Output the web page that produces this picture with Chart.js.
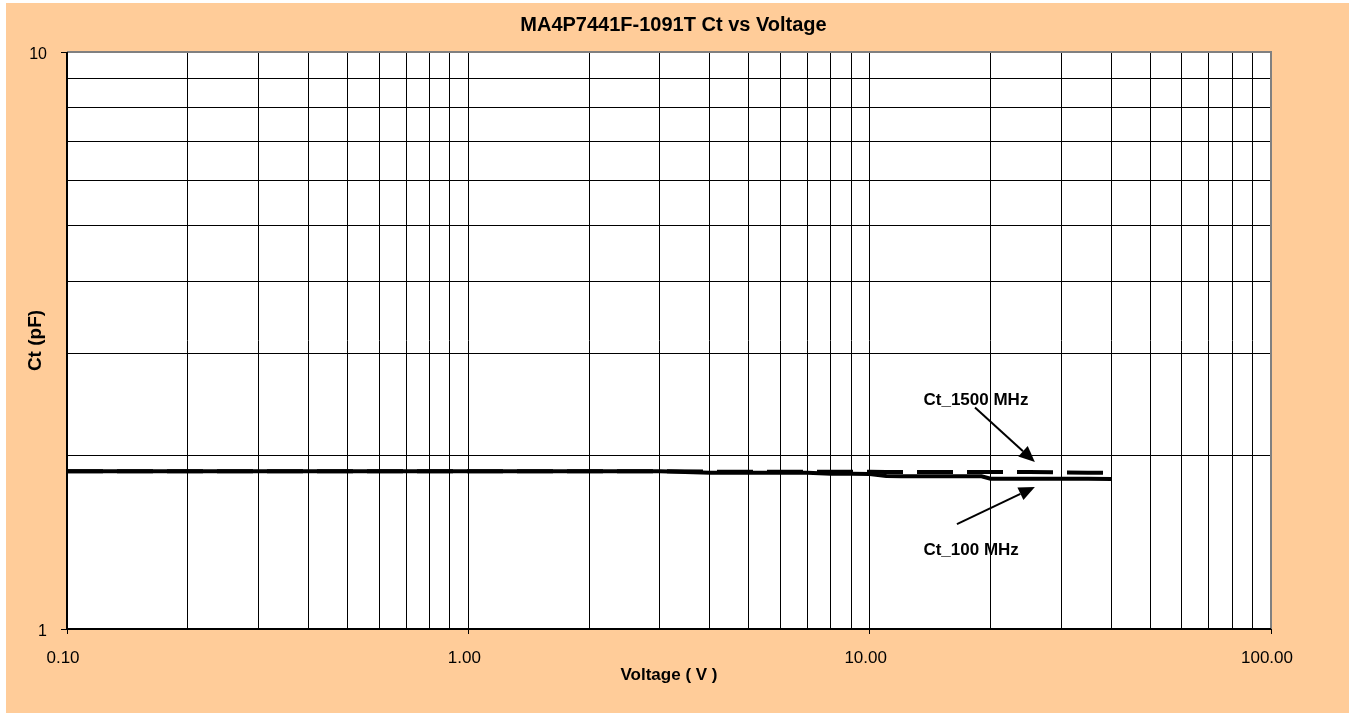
<!DOCTYPE html>
<html>
<head>
<meta charset="utf-8">
<script src="https://cdn.jsdelivr.net/npm/chart.js@4/dist/chart.umd.min.js"></script>
<style>
  html, body { margin: 0; padding: 0; background: #ffffff; width: 1349px; height: 713px; overflow: hidden; }
  #wrap { position: absolute; left: 6px; top: 3px; width: 1343px; height: 710px; }
</style>
</head>
<body>
<div id="wrap"><canvas id="c"></canvas></div>
<script>
// ---- data ----
const voltages = [0.1, 0.2, 0.3, 0.5, 1, 2, 3, 4, 5, 6, 7, 8, 9, 10, 11, 12, 15, 19, 20, 25, 30, 35, 40];
const ct100MHz = [1.876, 1.876, 1.876, 1.876, 1.876, 1.876, 1.876, 1.866, 1.866, 1.866, 1.865, 1.858, 1.858, 1.857, 1.841, 1.840, 1.840, 1.839, 1.822, 1.821, 1.821, 1.821, 1.820];
const ct1500MHz = [1.877, 1.877, 1.877, 1.877, 1.877, 1.877, 1.877, 1.874, 1.873, 1.873, 1.873, 1.873, 1.873, 1.873, 1.872, 1.872, 1.872, 1.872, 1.872, 1.871, 1.868, 1.866, 1.864];
const xTickValues = [0.1,0.2,0.3,0.4,0.5,0.6,0.7,0.8,0.9,1,2,3,4,5,6,7,8,9,10,20,30,40,50,60,70,80,90,100];
const xTickLabels = ['0.10','','','','','','','','','1.00','','','','','','','','','10.00','','','','','','','','','100.00'];
const yTickValues = [1,2,3,4,5,6,7,8,9,10];
const yTickLabels = ['1','','','','','','','','','10'];
const chartTitle = 'MA4P7441F-1091T Ct vs Voltage';
const xTitle = 'Voltage ( V )';
const yTitle = 'Ct (pF)';
const seriesNames = ['Ct_100 MHz', 'Ct_1500 MHz'];
// annotation anchors in data units: label position, arrow tail, arrow tip
const note1500 = { text: 'Ct_1500 MHz', label: [18.4, 2.49], tail: [18.3, 2.42], tip: [25.8, 1.947] };
const note100  = { text: 'Ct_100 MHz',  label: [17.9, 1.37], tail: [16.5, 1.52], tip: [25.8, 1.763] };

const PEACH = '#FFCC99';
const FONT = '"Liberation Sans", Arial, sans-serif';

const bgPlugin = {
  id: 'bg',
  beforeDraw(chart) {
    const {ctx, chartArea: a} = chart;
    ctx.save();
    ctx.fillStyle = PEACH;
    ctx.fillRect(0, 0, chart.width, chart.height);
    ctx.fillStyle = '#ffffff';
    ctx.fillRect(a.left, a.top, a.right - a.left, a.bottom - a.top);
    ctx.restore();
  },
  afterDraw(chart) {
    const {ctx, chartArea: a} = chart;
    ctx.save();
    ctx.strokeStyle = '#808080';
    ctx.lineWidth = 2;
    ctx.beginPath();
    ctx.moveTo(a.left, a.top); ctx.lineTo(a.right, a.top); ctx.lineTo(a.right, a.bottom);
    ctx.stroke();
    ctx.strokeStyle = '#000';
    ctx.beginPath();
    ctx.moveTo(a.left, a.top); ctx.lineTo(a.left, a.bottom); ctx.lineTo(a.right, a.bottom);
    ctx.stroke();
    // chart title, centred on the whole chart
    ctx.fillStyle = '#000';
    ctx.font = 'bold 20px ' + FONT;
    ctx.textAlign = 'center'; ctx.textBaseline = 'middle';
    ctx.fillText(chartTitle, chart.width / 2 - 4, 22);
    ctx.restore();
  }
};

function drawArrow(ctx, x1, y1, x2, y2) {
  const ang = Math.atan2(y2 - y1, x2 - x1);
  const hl = 16, hw = 7;
  const bx = x2 - hl * Math.cos(ang), by = y2 - hl * Math.sin(ang);
  ctx.beginPath();
  ctx.moveTo(x1, y1); ctx.lineTo(bx, by);
  ctx.stroke();
  ctx.beginPath();
  ctx.moveTo(x2, y2);
  ctx.lineTo(bx + hw * Math.sin(ang), by - hw * Math.cos(ang));
  ctx.lineTo(bx - hw * Math.sin(ang), by + hw * Math.cos(ang));
  ctx.closePath();
  ctx.fill();
}

const notePlugin = {
  id: 'notes',
  afterDatasetsDraw(chart) {
    const {ctx, scales: {x, y}} = chart;
    ctx.save();
    ctx.strokeStyle = '#000'; ctx.fillStyle = '#000'; ctx.lineWidth = 2;
    ctx.font = 'bold 17px ' + FONT;
    ctx.textAlign = 'center'; ctx.textBaseline = 'middle';
    [note1500, note100].forEach(n => {
      ctx.fillText(n.text, x.getPixelForValue(n.label[0]), y.getPixelForValue(n.label[1]));
      drawArrow(ctx, x.getPixelForValue(n.tail[0]), y.getPixelForValue(n.tail[1]),
                     x.getPixelForValue(n.tip[0]), y.getPixelForValue(n.tip[1]));
    });
    ctx.restore();
  }
};

new Chart(document.getElementById('c'), {
  type: 'line',
  data: {
    datasets: [
      {
        label: seriesNames[0],
        data: voltages.map((v, i) => ({x: v, y: ct100MHz[i]})),
        borderColor: '#000', borderWidth: 4, pointRadius: 0, tension: 0, fill: false
      },
      {
        label: seriesNames[1],
        data: voltages.map((v, i) => ({x: v, y: ct1500MHz[i]})),
        borderColor: '#000', borderWidth: 4, borderDash: [36, 14], pointRadius: 0, tension: 0, fill: false
      }
    ]
  },
  options: {
    responsive: true,
    maintainAspectRatio: false,
    animation: false,
    layout: { padding: { top: 49, left: 0, right: 78, bottom: 0 } },
    plugins: {
      legend: { display: false },
      tooltip: { enabled: false },
      title: { display: false }
    },
    scales: {
      x: {
        type: 'logarithmic', min: 0.1, max: 100,
        afterBuildTicks(s) { s.ticks = xTickValues.map(v => ({value: v})); },
        afterFit(s) { s.height = 84; },
        ticks: {
          autoSkip: false, maxRotation: 0, color: '#000', padding: 14, labelOffset: -4,
          font: { family: FONT, size: 17 },
          callback(v, i) { return xTickLabels[i]; }
        },
        grid: {
          color: '#000', lineWidth: 1, drawTicks: true, tickLength: 5,
          tickColor(c) { return (c.tick && xTickLabels[c.index]) ? '#000' : 'rgba(0,0,0,0)'; }
        },
        border: { display: false },
        title: {
          display: true, text: xTitle, color: '#000',
          font: { family: FONT, size: 17, weight: 'bold' },
          padding: { top: 0, bottom: 27 }
        }
      },
      y: {
        type: 'logarithmic', min: 1, max: 10,
        afterBuildTicks(s) { s.ticks = yTickValues.map(v => ({value: v})); },
        afterFit(s) { s.width = 61; },
        ticks: {
          autoSkip: false, color: '#000', padding: 14, labelOffset: 3,
          font: { family: FONT, size: 16 },
          callback(v, i) { return yTickLabels[i]; }
        },
        grid: {
          color: '#000', lineWidth: 1, drawTicks: true, tickLength: 6,
          tickColor(c) { return (c.tick && yTickLabels[c.index]) ? '#000' : 'rgba(0,0,0,0)'; }
        },
        border: { display: false },
        title: {
          display: true, text: yTitle, color: '#000',
          font: { family: FONT, size: 19, weight: 'bold' },
          padding: { top: 18, bottom: 0 }
        }
      }
    }
  },
  plugins: [bgPlugin, notePlugin]
});
</script>
</body>
</html>
